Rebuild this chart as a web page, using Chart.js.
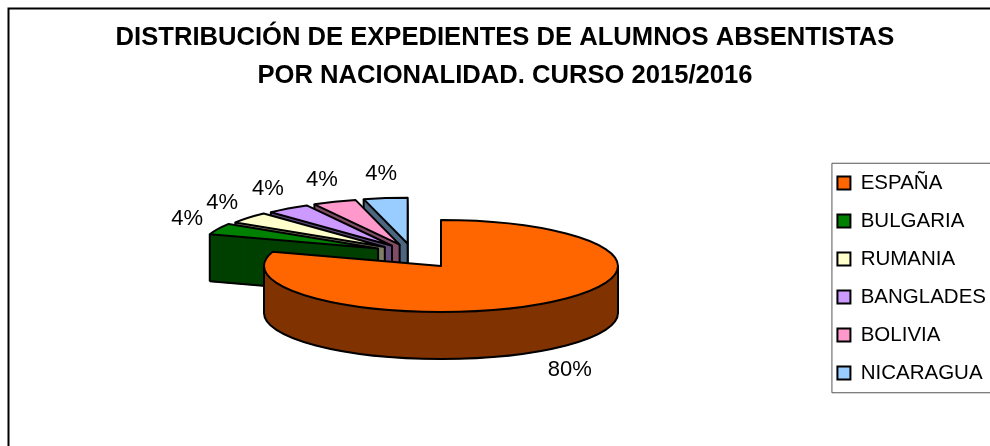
<!DOCTYPE html>
<html>
<head>
<meta charset="utf-8">
<style>
  html, body { margin: 0; padding: 0; background: #fff; overflow: hidden; }
  canvas { display: block; }
</style>
<script src="https://cdn.jsdelivr.net/npm/chart.js@4"></script>
</head>
<body>
<canvas id="myChart" width="990" height="446"></canvas>
<script>
// data
const paises = ['ESPAÑA', 'BULGARIA', 'RUMANIA', 'BANGLADES', 'BOLIVIA', 'NICARAGUA'];
const expedientes = [20, 1, 1, 1, 1, 1];
const colores = ['#FF6600', '#008000', '#FFFFCC', '#CC99FF', '#FF99CC', '#99CCFF'];
const separacion = [0, 92, 92, 92, 92, 92];
const titulo = ['DISTRIBUCIÓN DE EXPEDIENTES DE ALUMNOS ABSENTISTAS', 'POR NACIONALIDAD. CURSO 2015/2016'];

// how the flat pie gets laid over in 3d
const vista = { cx: 441, cy: 266, rx: 177, ry: 46, fondo: 47 };
const fuente = '22px "Liberation Sans", Arial, sans-serif';

function oscurecer(hex) {
  const n = parseInt(hex.slice(1), 16);
  const c = [n >> 16, (n >> 8) & 255, n & 255].map(v => Math.round(v / 2));
  return 'rgb(' + c.join(',') + ')';
}

// centre of a slice after moving it out, in screen pixels
function centroPorcion(arc, i) {
  const medio = (arc.startAngle + arc.endAngle) / 2 + Math.PI / 2;
  const atras = 2 * Math.PI - medio;
  // excel pulls the small slices out more to the top than the radial direction
  const dir = 18.5 * Math.PI / 180 + 0.38 * atras;
  const d = separacion[i];
  return {
    x: vista.cx - Math.sin(dir) * d,
    y: vista.cy - Math.cos(dir) * d * vista.ry / vista.rx
  };
}

function trazar(ctx, c, arc, y) {
  ctx.beginPath();
  ctx.moveTo(c.x, c.y + y);
  ctx.ellipse(c.x, c.y + y, vista.rx, vista.ry, 0, arc.startAngle, arc.endAngle);
  ctx.closePath();
}

function vertical(ctx, x, y) {
  ctx.beginPath();
  ctx.moveTo(x, y);
  ctx.lineTo(x, y + vista.fondo);
  ctx.stroke();
}

function dibujarPorcion(ctx, arc, i) {
  const c = centroPorcion(arc, i);
  const color = arc.options.backgroundColor;
  const oscuro = oscurecer(colores[i]);
  ctx.lineJoin = 'round';

  // side wall, stroked too so the thin tip near the centre fills solid
  ctx.fillStyle = oscuro;
  ctx.strokeStyle = oscuro;
  ctx.lineWidth = 1;
  for (let d = vista.fondo; d > 0; d--) {
    trazar(ctx, c, arc, d);
    ctx.fill();
    ctx.stroke();
  }

  ctx.strokeStyle = arc.options.borderColor;
  ctx.lineWidth = arc.options.borderWidth;

  // only the edges of the wall that face the viewer get a line
  if (separacion[i] > 0) {
    const ex = c.x + vista.rx * Math.cos(arc.startAngle);
    const ey = c.y + vista.ry * Math.sin(arc.startAngle);
    ctx.beginPath();
    ctx.moveTo(c.x, c.y + vista.fondo);
    ctx.lineTo(ex, ey + vista.fondo);
    ctx.stroke();
    vertical(ctx, ex, ey);
    vertical(ctx, c.x, c.y);
  } else {
    ctx.beginPath();
    ctx.ellipse(c.x, c.y + vista.fondo, vista.rx, vista.ry, 0, 0, Math.PI);
    ctx.stroke();
    vertical(ctx, c.x - vista.rx, c.y);
    vertical(ctx, c.x + vista.rx, c.y);
  }

  // top
  trazar(ctx, c, arc, 0);
  ctx.fillStyle = color;
  ctx.fill();
  ctx.stroke();
}

const pastel3d = {
  id: 'pastel3d',
  beforeDraw(chart) {
    const ctx = chart.ctx;
    ctx.save();
    ctx.strokeStyle = '#000';
    ctx.lineWidth = 2;
    ctx.beginPath();
    ctx.moveTo(8.5, chart.height + 5);
    ctx.lineTo(8.5, 8.5);
    ctx.lineTo(chart.width + 5, 8.5);
    ctx.stroke();
    ctx.restore();
  },
  beforeDatasetDraw(chart, args) {
    const ctx = chart.ctx;
    const arcs = args.meta.data;
    ctx.save();
    // back to front: nicaragua first, españa last
    for (let i = arcs.length - 1; i >= 1; i--) dibujarPorcion(ctx, arcs[i], i);
    dibujarPorcion(ctx, arcs[0], 0);

    // % labels
    const total = expedientes.reduce((a, b) => a + b, 0);
    ctx.font = fuente;
    ctx.fillStyle = '#000';
    ctx.textAlign = 'center';
    ctx.textBaseline = 'middle';
    arcs.forEach((arc, i) => {
      const c = centroPorcion(arc, i);
      const m = (arc.startAngle + arc.endAngle) / 2;
      const abajo = Math.sin(m) > 0;
      const x = c.x + Math.cos(m) * (vista.rx + (abajo ? 42 : 34));
      const y = c.y + Math.sin(m) * (vista.ry + 24) + (abajo ? vista.fondo : 0);
      ctx.fillText(Math.round(expedientes[i] / total * 100) + '%', x, y);
    });
    ctx.restore();
    return false;
  },
  afterDraw(chart) {
    // legend box, the line runs off the right side like in the original
    const cajas = chart.legend.legendHitBoxes;
    const ctx = chart.ctx;
    const arriba = cajas[0].top - 10;
    const abajo = cajas[cajas.length - 1].top + cajas[cajas.length - 1].height + 9;
    const izq = cajas[0].left - 6;
    ctx.save();
    ctx.strokeStyle = '#555';
    ctx.lineWidth = 1;
    ctx.beginPath();
    ctx.moveTo(chart.width + 5, arriba + 0.5);
    ctx.lineTo(izq + 0.5, arriba + 0.5);
    ctx.lineTo(izq + 0.5, abajo + 0.5);
    ctx.lineTo(chart.width + 5, abajo + 0.5);
    ctx.stroke();
    ctx.restore();
  }
};

const config = {
  type: 'pie',
  data: {
    labels: paises,
    datasets: [{
      data: expedientes,
      backgroundColor: colores,
      borderColor: '#000',
      borderWidth: 2
    }]
  },
  plugins: [pastel3d],
  options: {
    responsive: false,
    animation: false,
    layout: { padding: { left: 14, right: -6, top: 0, bottom: -110 } },
    plugins: {
      tooltip: { enabled: false },
      title: {
        display: true,
        text: titulo,
        color: '#000',
        font: { family: '"Liberation Sans", Arial, sans-serif', size: 25.6, weight: 'bold', lineHeight: 1.48 },
        padding: { top: 19, bottom: 10 }
      },
      legend: {
        position: 'right',
        labels: {
          color: '#000',
          boxWidth: 13,
          boxHeight: 13,
          padding: 17.5,
          font: { family: '"Liberation Sans", Arial, sans-serif', size: 20.5 }
        }
      }
    }
  }
};

const myChart = new Chart(document.getElementById('myChart'), config);
</script>
</body>
</html>
